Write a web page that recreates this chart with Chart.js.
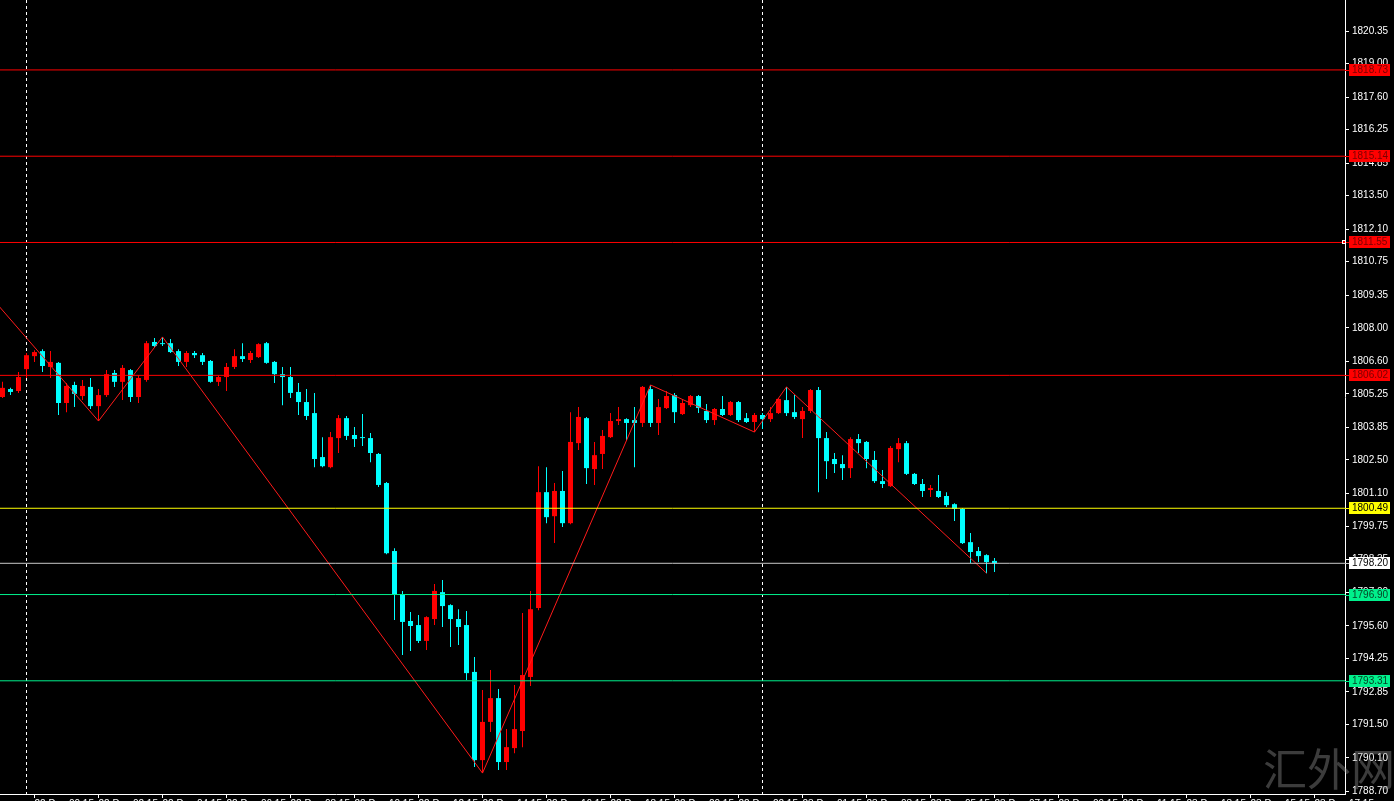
<!DOCTYPE html>
<html>
<head>
<meta charset="utf-8">
<script src="https://cdn.jsdelivr.net/npm/chart.js@4.4.1/dist/chart.umd.min.js"></script>
<style>
html, body { margin: 0; padding: 0; background: #000; overflow: hidden; }
canvas { display: block; }
</style>
</head>
<body>
<canvas id="chart" width="1394" height="801"></canvas>
<script>
// XAUUSD M15 candles, index 0 = leftmost bar
let opens = [
    1805.12, 1805.45, 1805.37, 1806.28, 1806.82, 1807.03, 1806.37, 1806.54, 1804.87, 1805.62,
    1805.16, 1805.54, 1804.74, 1805.20, 1806.12, 1805.75, 1806.24, 1805.12, 1805.83, 1807.41,
    1807.36, 1807.36, 1807.03, 1806.58, 1806.95, 1806.86, 1806.62, 1805.75, 1805.95, 1806.37,
    1806.82, 1806.66, 1806.78, 1807.36, 1806.58, 1806.07, 1805.95, 1805.33, 1804.91, 1804.45,
    1802.62, 1802.20, 1803.41, 1804.24, 1803.54, 1803.45, 1803.41, 1802.75, 1801.54, 1798.71,
    1796.92, 1795.80, 1795.63, 1794.97, 1795.88, 1797.00, 1796.46, 1795.88, 1795.63, 1793.68,
    1790.01, 1791.60, 1792.59, 1789.93, 1790.51, 1791.22, 1793.47, 1796.34, 1801.16, 1800.16,
    1801.21, 1799.87, 1803.20, 1804.24, 1802.12, 1802.75, 1803.45, 1804.12, 1804.20, 1804.16,
    1804.04, 1805.45, 1804.04, 1804.66, 1805.20, 1804.41, 1804.78, 1805.16, 1804.54, 1804.16,
    1804.62, 1804.37, 1804.91, 1804.24, 1804.08, 1804.37, 1804.20, 1804.45, 1804.99, 1804.49,
    1804.20, 1804.54, 1805.41, 1803.41, 1802.54, 1802.33, 1802.16, 1803.37, 1803.25, 1802.50,
    1801.62, 1801.41, 1802.95, 1803.20, 1801.92, 1801.50, 1801.25, 1801.21, 1801.00, 1800.66,
    1800.46, 1799.08, 1798.71, 1798.54, 1798.30
];
let highs = [
    1805.75, 1805.50, 1806.16, 1806.95, 1807.07, 1807.11, 1807.03, 1806.58, 1805.70, 1805.75,
    1805.83, 1805.91, 1805.45, 1806.24, 1806.24, 1806.45, 1806.28, 1806.03, 1807.45, 1807.57,
    1807.62, 1807.53, 1807.11, 1807.03, 1807.03, 1806.95, 1806.66, 1806.03, 1806.54, 1807.11,
    1807.36, 1807.03, 1807.36, 1807.41, 1806.62, 1806.37, 1806.37, 1805.70, 1805.45, 1805.29,
    1803.45, 1803.66, 1804.37, 1804.33, 1803.87, 1804.41, 1803.62, 1802.79, 1801.58, 1798.83,
    1797.05, 1796.17, 1796.05, 1796.00, 1797.34, 1797.50, 1796.50, 1796.29, 1796.21, 1794.30,
    1792.93, 1793.76, 1792.97, 1791.30, 1793.14, 1796.13, 1797.05, 1802.24, 1802.20, 1801.54,
    1802.04, 1804.49, 1804.70, 1804.29, 1803.25, 1803.75, 1804.45, 1804.70, 1804.24, 1804.70,
    1805.58, 1805.62, 1805.04, 1805.37, 1805.29, 1804.99, 1805.20, 1805.20, 1804.83, 1804.66,
    1805.16, 1804.95, 1804.95, 1804.45, 1804.45, 1804.45, 1804.70, 1805.08, 1805.54, 1805.20,
    1804.70, 1805.45, 1805.54, 1803.66, 1802.79, 1802.70, 1803.45, 1803.58, 1803.29, 1802.87,
    1802.08, 1803.08, 1803.41, 1803.29, 1801.96, 1801.71, 1801.46, 1801.87, 1801.16, 1800.70,
    1800.50, 1799.46, 1798.88, 1798.58, 1798.42
];
let lows = [
    1805.08, 1805.20, 1805.29, 1805.91, 1806.58, 1806.16, 1805.91, 1804.37, 1804.49, 1804.70,
    1804.99, 1804.62, 1804.12, 1805.12, 1805.54, 1804.99, 1804.91, 1804.87, 1805.75, 1807.20,
    1807.24, 1806.95, 1806.41, 1806.37, 1806.74, 1806.45, 1805.71, 1805.58, 1805.37, 1806.28,
    1806.58, 1806.54, 1806.74, 1806.50, 1805.70, 1804.78, 1805.08, 1804.37, 1804.16, 1802.20,
    1802.20, 1802.16, 1802.79, 1803.33, 1803.04, 1803.08, 1802.41, 1801.37, 1798.58, 1795.84,
    1794.38, 1794.55, 1794.88, 1794.59, 1795.63, 1795.55, 1794.72, 1794.80, 1793.34, 1789.72,
    1789.47, 1791.18, 1789.60, 1789.60, 1790.30, 1790.55, 1793.09, 1796.25, 1799.87, 1799.04,
    1799.71, 1799.83, 1802.91, 1801.50, 1801.46, 1802.12, 1803.41, 1803.95, 1803.33, 1802.20,
    1803.87, 1803.87, 1803.54, 1804.62, 1804.04, 1804.37, 1804.70, 1804.45, 1804.04, 1803.95,
    1804.33, 1804.33, 1804.08, 1804.04, 1803.66, 1803.79, 1804.08, 1804.41, 1804.33, 1804.20,
    1803.41, 1804.45, 1801.16, 1801.71, 1801.96, 1801.67, 1801.75, 1802.79, 1802.16, 1801.54,
    1801.33, 1801.37, 1802.41, 1801.87, 1801.46, 1800.96, 1800.96, 1800.92, 1800.54, 1799.96,
    1799.00, 1798.21, 1798.25, 1797.79, 1797.84
];
let closes = [
    1805.50, 1805.33, 1805.95, 1806.86, 1806.99, 1806.41, 1806.58, 1804.87, 1805.58, 1805.25,
    1805.58, 1804.74, 1805.20, 1806.07, 1805.75, 1806.33, 1805.12, 1805.91, 1807.36, 1807.24,
    1807.32, 1806.99, 1806.58, 1806.95, 1806.86, 1806.58, 1805.75, 1805.95, 1806.37, 1806.82,
    1806.70, 1806.95, 1807.32, 1806.54, 1806.07, 1805.95, 1805.29, 1804.91, 1804.33, 1802.54,
    1802.24, 1803.45, 1804.24, 1803.50, 1803.37, 1803.41, 1802.79, 1801.46, 1798.62, 1796.92,
    1795.76, 1795.59, 1794.97, 1795.96, 1797.05, 1796.42, 1795.88, 1795.55, 1793.63, 1790.01,
    1791.60, 1792.59, 1789.93, 1790.55, 1791.30, 1793.55, 1796.29, 1801.16, 1800.12, 1801.21,
    1799.87, 1803.25, 1804.29, 1802.16, 1802.70, 1803.50, 1804.12, 1804.20, 1804.04, 1804.04,
    1805.54, 1804.04, 1804.70, 1805.16, 1804.49, 1804.87, 1805.16, 1804.66, 1804.16, 1804.62,
    1804.37, 1804.91, 1804.16, 1804.08, 1804.37, 1804.20, 1804.45, 1805.04, 1804.45, 1804.29,
    1804.54, 1805.41, 1803.41, 1802.45, 1802.33, 1802.16, 1803.37, 1803.20, 1802.54, 1801.62,
    1801.50, 1803.00, 1803.20, 1801.92, 1801.50, 1801.21, 1801.33, 1800.96, 1800.62, 1800.46,
    1799.04, 1798.67, 1798.50, 1798.25, 1798.20
];

// zigzag turning points (bar index, price)
let zigIdx = [-10, 12, 20, 60, 81, 94, 98, 123];
let zigPrice = [1812.57, 1804.12, 1807.62, 1789.47, 1805.62, 1803.66, 1805.54, 1797.79];

// horizontal levels
let levels = [1818.73, 1815.14, 1811.55, 1806.02, 1800.49, 1798.20, 1796.90, 1793.31];

// day separators (bar index)
let sepIdx = [3, 95];

let yTicks = [1821.75, 1820.35, 1819.00, 1817.60, 1816.25, 1814.85, 1813.50, 1812.10, 1810.75,
    1809.35, 1808.00, 1806.60, 1805.25, 1803.85, 1802.50, 1801.10, 1799.75, 1798.35, 1797.00,
    1795.60, 1794.25, 1792.85, 1791.50, 1790.10, 1788.70];

let xTickIdx = [4, 12, 20, 28, 36, 44, 52, 60, 68, 76, 84, 92, 100, 108, 116, 124, 132, 140, 148, 156, 164];
let xTickLabels = ['22 Dec 00:15', '22 Dec 02:15', '22 Dec 04:15', '22 Dec 06:15', '22 Dec 08:15',
    '22 Dec 10:15', '22 Dec 12:15', '22 Dec 14:15', '22 Dec 16:15', '22 Dec 18:15', '22 Dec 20:15',
    '22 Dec 22:15', '23 Dec 01:15', '23 Dec 03:15', '23 Dec 05:15', '23 Dec 07:15', '23 Dec 09:15',
    '23 Dec 11:15', '23 Dec 13:15', '23 Dec 15:15', '23 Dec 17:15'];

let upCol = '#ff0000';
let downCol = '#00ffff';
let levelCol = ['#ff0000', '#ff0000', '#ff0000', '#ff0000', '#ffff00', '#c8c8c8', '#00f08c', '#00f08c'];
let boxCol = ['#ff0000', '#ff0000', '#ff0000', '#ff0000', '#ffff00', '#ffffff', '#00f08c', '#00f08c'];
let boxTxt = ['#7a0000', '#7a0000', '#7a0000', '#7a0000', '#000000', '#000000', '#063d22', '#063d22'];

function barColor(ctx) {
    let i = ctx.dataIndex;
    return closes[i] >= opens[i] ? upCol : downCol;
}

let bodies = opens.map((o, i) => ({x: i, y: [o, closes[i]]}));
let wicks = lows.map((l, i) => ({x: i, y: [l, highs[i]]}));
let zigzag = zigIdx.map((x, i) => ({x: x, y: zigPrice[i]}));

let datasets = [];
levels.forEach(function (v, i) {
    datasets.push({
        type: 'line',
        data: [{x: -5, y: v}, {x: 200, y: v}],
        borderColor: levelCol[i],
        borderWidth: 1,
        pointRadius: 0,
        order: 1
    });
});
datasets.push({
    type: 'line',
    data: zigzag,
    borderColor: '#ff1a1a',
    borderWidth: 1,
    pointRadius: 0,
    tension: 0,
    order: 2
});
datasets.push({
    type: 'bar',
    data: bodies,
    backgroundColor: barColor,
    borderWidth: 0,
    barThickness: 5,
    grouped: false,
    inflateAmount: 0,
    order: 4
});
datasets.push({
    type: 'bar',
    data: wicks,
    backgroundColor: barColor,
    borderWidth: 0,
    barThickness: 1,
    grouped: false,
    inflateAmount: 0,
    order: 5
});

let tickFont = {family: '"Liberation Sans", Arial, sans-serif', size: 10};

let decor = {
    id: 'decor',
    beforeDraw(chart) {
        let ctx = chart.ctx;
        ctx.save();
        ctx.fillStyle = '#000';
        ctx.fillRect(0, 0, chart.width, chart.height);
        ctx.restore();
    },
    beforeDatasetsDraw(chart) {
        let ctx = chart.ctx, xs = chart.scales.x, area = chart.chartArea;
        ctx.save();
        ctx.strokeStyle = '#ffffff';
        ctx.lineWidth = 1;
        ctx.setLineDash([3, 3]);
        sepIdx.forEach(function (i) {
            let px = Math.floor(xs.getPixelForValue(i)) + 0.5;
            ctx.beginPath();
            ctx.moveTo(px, area.top);
            ctx.lineTo(px, area.bottom);
            ctx.stroke();
        });
        ctx.restore();
    },
    afterDraw(chart) {
        let ctx = chart.ctx, ys = chart.scales.y, area = chart.chartArea;
        ctx.save();
        ctx.font = '10px "Liberation Sans", Arial, sans-serif';
        ctx.textBaseline = 'middle';
        levels.forEach(function (v, i) {
            let py = Math.round(ys.getPixelForValue(v));
            ctx.fillStyle = levelCol[i];
            ctx.fillRect(area.right, py, 4, 1);
            ctx.fillStyle = boxCol[i];
            ctx.fillRect(area.right + 4, py - 6, 41, 12);
            ctx.fillStyle = boxTxt[i];
            ctx.fillText(v.toFixed(2), area.right + 7, py);
        });
        // little marker on the 1811.55 line
        let my = Math.round(ys.getPixelForValue(levels[2]));
        ctx.fillStyle = '#ffffff';
        ctx.fillRect(area.right - 3, my - 2, 4, 4);
        ctx.fillStyle = '#ff0000';
        ctx.fillRect(area.right - 2, my - 1, 2, 2);
        // watermark
        ctx.font = '44px "Noto Sans CJK SC", sans-serif';
        ctx.textBaseline = 'alphabetic';
        ctx.fillStyle = 'rgba(150, 150, 150, 0.4)';
        ctx.fillText('汇外网', 1263, 786);
        ctx.restore();
    }
};

var ctx = document.getElementById('chart').getContext('2d');
var chart = new Chart(ctx, {
    type: 'bar',
    data: {datasets: datasets},
    options: {
        responsive: false,
        animation: false,
        devicePixelRatio: 1,
        layout: {padding: 0, autoPadding: false},
        plugins: {
            legend: {display: false},
            tooltip: {enabled: false}
        },
        scales: {
            x: {
                type: 'linear',
                position: 'bottom',
                offset: false,
                min: -0.3125,
                max: 167.8125,
                afterBuildTicks: function (scale) {
                    scale.ticks = xTickIdx.map(v => ({value: v}));
                },
                afterFit: function (scale) {
                    scale.height = 7;
                    scale.paddingLeft = 0;
                    scale.paddingRight = 0;
                },
                ticks: {
                    color: '#ffffff',
                    font: tickFont,
                    autoSkip: false,
                    maxRotation: 0,
                    align: 'start',
                    padding: 0,
                    callback: function (value) {
                        return xTickLabels[xTickIdx.indexOf(value)];
                    }
                },
                grid: {display: true, drawOnChartArea: false, drawTicks: true, tickLength: 4, color: '#ffffff', offset: false},
                border: {display: true, color: '#ffffff'}
            },
            y: {
                type: 'linear',
                position: 'right',
                min: 1788.60,
                max: 1821.64,
                afterBuildTicks: function (scale) {
                    scale.ticks = yTicks.map(v => ({value: v}));
                },
                afterFit: function (scale) {
                    scale.width = 49;
                    scale.paddingTop = 0;
                    scale.paddingBottom = 0;
                },
                ticks: {
                    color: '#ffffff',
                    font: tickFont,
                    autoSkip: false,
                    padding: 3,
                    callback: function (value) {
                        return Number(value).toFixed(2);
                    }
                },
                grid: {display: true, drawOnChartArea: false, drawTicks: true, tickLength: 4, color: '#ffffff'},
                border: {display: true, color: '#ffffff'}
            }
        }
    },
    plugins: [decor]
});
</script>
</body>
</html>
